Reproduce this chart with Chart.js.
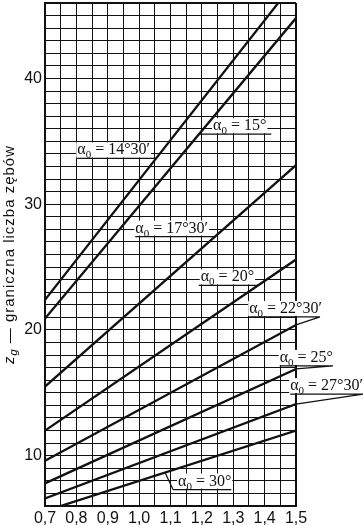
<!DOCTYPE html>
<html>
<head>
<meta charset="utf-8">
<script src="https://cdn.jsdelivr.net/npm/chart.js@4.4.1/dist/chart.umd.min.js"></script>
<style>
  html, body { margin: 0; padding: 0; background: #fff; }
  canvas { display: block; }
</style>
</head>
<body>
<canvas id="chart" width="364" height="525"></canvas>
<script>
(function () {
  // x: addendum factor, y: limiting number of teeth z_g
  const xs = [0.7, 1.5];
  const xTickLabels = [0.7, 0.8, 0.9, 1.0, 1.1, 1.2, 1.3, 1.4, 1.5];
  const yTickLabels = [10, 20, 30, 40];
  const angles = ['14°30′', '15°', '17°30′', '20°', '22°30′', '25°', '27°30′', '30°'];

  const z14_30 = [22.4, 47.8];
  const z15 = [20.9, 44.8];
  const z17_30 = [15.5, 33.1];
  const z20 = [12.0, 25.6];
  const z22_30 = [9.6, 20.4];
  const z25 = [7.8, 16.9];
  const z27_30 = [6.6, 14.1];
  const z30 = [5.6, 12.0];

  const series = [z14_30, z15, z17_30, z20, z22_30, z25, z27_30, z30];

  // where each angle tag sits: point on the line (x value), leader offset, side of text
  const tags = [
    { s: 0, at: 1.054, dx: 0, dy: 0, side: 'left', gap: 6, tail: 0 },
    { s: 1, at: 1.191, dx: 0, dy: 0, side: 'right', gap: 14, tail: 5 },
    { s: 2, at: 1.242, dx: 0, dy: 0, side: 'left', gap: 7, tail: 0 },
    { s: 3, at: 1.379, dx: 0, dy: 0, side: 'left', gap: 4, tail: 2 },
    { s: 4, at: 1.5, dx: 24, dy: -8, side: 'left', gap: -2, tail: 0 },
    { s: 5, at: 1.5, dx: 37, dy: -3, side: 'left', gap: 0, tail: 0 },
    { s: 6, at: 1.5, dx: 67, dy: -10, side: 'left', gap: 0, tail: 0 },
    { s: 7, at: 1.0825, dx: 8, dy: 17, side: 'right', gap: 5, tail: 0 }
  ];

  const ink = '#111';
  const serif = '"Liberation Serif", "Times New Roman", serif';
  const sans = '"Liberation Sans", Arial, sans-serif';
  const bigFont = '16px ' + serif;
  const subFont = '11px ' + serif;

  function tagWidth(ctx, angle) {
    ctx.font = bigFont;
    let w = ctx.measureText('α').width;
    ctx.font = subFont;
    w += ctx.measureText('0').width;
    ctx.font = bigFont;
    w += ctx.measureText(' = ' + angle).width;
    return w;
  }

  function drawTagText(ctx, angle, left, base) {
    ctx.font = bigFont;
    ctx.fillText('α', left, base);
    let w = ctx.measureText('α').width;
    ctx.font = subFont;
    ctx.fillText('0', left + w, base + 4);
    w += ctx.measureText('0').width;
    ctx.font = bigFont;
    ctx.fillText(' = ' + angle, left + w, base);
  }

  function tagGeometry(chart, t) {
    const meta = chart.getDatasetMeta(t.s);
    const p0 = meta.data[0], p1 = meta.data[1];
    const cx = chart.scales.x.getPixelForValue(t.at);
    const cy = p0.y + (p1.y - p0.y) * (cx - p0.x) / (p1.x - p0.x);
    const px = cx + t.dx, py = cy + t.dy;
    const w = tagWidth(chart.ctx, angles[t.s]);
    let left, u0, u1;
    if (t.side === 'left') {
      left = px - t.gap - w;
      u0 = left - t.tail; u1 = px;
    } else {
      left = px + t.gap;
      u0 = px; u1 = left + w + t.tail;
    }
    return { cx, cy, px, py, w, left, u0, u1, base: py - 4 };
  }

  const tagPlugin = {
    id: 'angleTags',
    beforeDatasetsDraw(chart) {
      const ctx = chart.ctx;
      ctx.save();
      ctx.fillStyle = '#fff';
      tags.forEach(t => {
        const g = tagGeometry(chart, t);
        ctx.fillRect(g.left - 1, g.base - 12, g.w + 2, 15);
      });
      ctx.restore();
    },
    afterDatasetsDraw(chart) {
      const ctx = chart.ctx;
      ctx.save();
      ctx.strokeStyle = ink;
      ctx.fillStyle = ink;
      ctx.lineWidth = 1.2;
      ctx.textBaseline = 'alphabetic';
      ctx.textAlign = 'left';
      tags.forEach(t => {
        const g = tagGeometry(chart, t);
        ctx.beginPath();
        if (t.dx || t.dy) {
          ctx.moveTo(g.cx, g.cy);
          ctx.lineTo(g.px, g.py);
        }
        ctx.moveTo(g.u0, g.py);
        ctx.lineTo(g.u1, g.py);
        ctx.stroke();
        drawTagText(ctx, angles[t.s], g.left, g.base);
      });
      ctx.restore();
    },
    afterDraw(chart) {
      // y axis title with subscript g
      const ctx = chart.ctx;
      const area = chart.chartArea;
      const rest = ' — graniczna liczba zębów';
      ctx.save();
      ctx.fillStyle = ink;
      ctx.letterSpacing = '1px';
      ctx.font = 'italic 15px ' + sans;
      const wz = ctx.measureText('z').width;
      ctx.font = 'italic 11px ' + sans;
      const wg = ctx.measureText('g').width;
      ctx.font = '15px ' + sans;
      const wr = ctx.measureText(rest).width;
      const total = wz + wg + wr;
      ctx.translate(14, (area.top + area.bottom) / 2);
      ctx.rotate(-Math.PI / 2);
      ctx.textBaseline = 'alphabetic';
      let x = -total / 2;
      ctx.font = 'italic 15px ' + sans;
      ctx.fillText('z', x, 0);
      x += wz;
      ctx.font = 'italic 11px ' + sans;
      ctx.fillText('g', x, 3);
      x += wg;
      ctx.font = '15px ' + sans;
      ctx.fillText(rest, x, 0);
      ctx.restore();
    }
  };

  const isLabeled = (v, list) => list.some(l => Math.abs(l - v) < 1e-6);

  new Chart(document.getElementById('chart'), {
    type: 'line',
    data: {
      datasets: series.map((vals, i) => ({
        label: 'α0 = ' + angles[i],
        data: xs.map((x, j) => ({ x, y: vals[j] })),
        borderColor: ink,
        borderWidth: 2.3,
        pointRadius: 0,
        tension: 0,
        fill: false
      }))
    },
    options: {
      responsive: false,
      animation: false,
      events: [],
      layout: { padding: { left: 0, right: 68, top: 3, bottom: 0 } },
      plugins: { legend: { display: false }, tooltip: { enabled: false } },
      scales: {
        x: {
          type: 'linear',
          min: 0.7,
          max: 1.5,
          afterFit(scale) { scale.height = 19; scale.paddingLeft = 0; scale.paddingRight = 0; },
          border: { display: true, color: ink, width: 2 },
          grid: {
            color: ink,
            drawTicks: false,
            lineWidth: c => (c.tick && (Math.abs(c.tick.value - 0.7) < 1e-6 || Math.abs(c.tick.value - 1.5) < 1e-6)) ? 2 : 1
          },
          ticks: {
            stepSize: 0.05,
            autoSkip: false,
            maxRotation: 0,
            padding: 3,
            color: ink,
            font: { family: sans, size: 16 },
            callback: v => isLabeled(v, xTickLabels) ? v.toFixed(1).replace('.', ',') : ''
          }
        },
        y: {
          type: 'linear',
          min: 6,
          max: 46,
          afterFit(scale) { scale.width = 45; scale.paddingTop = 0; scale.paddingBottom = 0; },
          border: { display: true, color: ink, width: 2 },
          grid: {
            color: ink,
            drawTicks: false,
            lineWidth: c => (c.tick && (c.tick.value === 6 || c.tick.value === 46)) ? 2 : 1
          },
          ticks: {
            stepSize: 1,
            autoSkip: false,
            padding: 3,
            color: ink,
            font: { family: sans, size: 16 },
            callback: v => isLabeled(v, yTickLabels) ? String(v) : ''
          }
        }
      }
    },
    plugins: [tagPlugin]
  });
})();
</script>
</body>
</html>
